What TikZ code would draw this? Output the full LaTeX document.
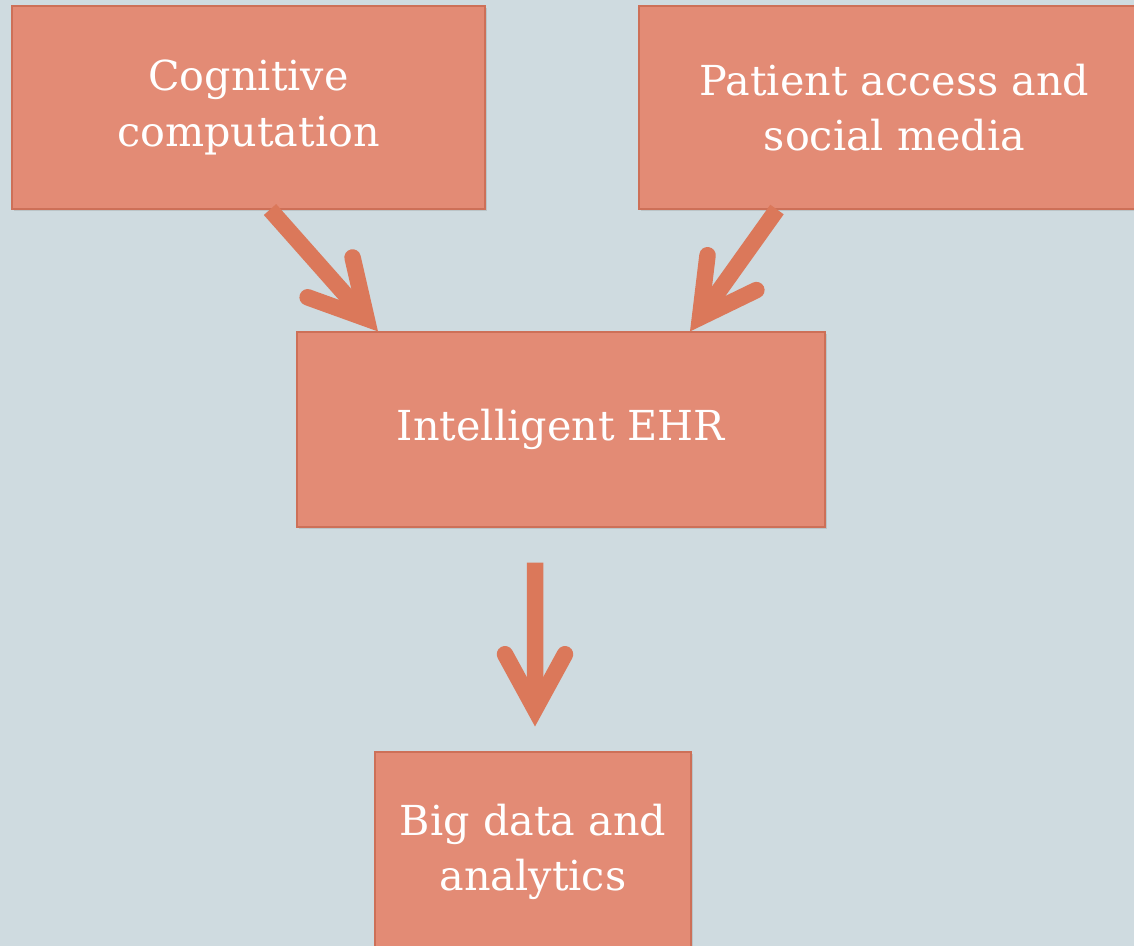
\documentclass[tikz,border=0pt]{standalone}
\usepackage{fontspec}
\setmainfont{DejaVu Serif}
\usetikzlibrary{arrows.meta,shadows}
\definecolor{slate}{RGB}{207,219,224}
\definecolor{salmon}{RGB}{227,139,117}
\definecolor{salmonedge}{RGB}{205,112,88}
\definecolor{rust}{RGB}{219,120,90}
\tikzset{
  box/.style={draw=salmonedge, line width=0.6pt, fill=salmon, text=white,
    align=center, inner sep=0pt, font=\fontsize{23.5}{31.5}\selectfont,
    drop shadow={opacity=0.25, shadow xshift=0.04cm, shadow yshift=-0.05cm}},
  flow/.style={draw=rust, line width=0.33cm,
    -{Straight Barb[length=1.1cm, width=1.2cm, line cap=round, line join=miter]}}
}

\begin{document}
\begin{tikzpicture}
			%%%%% START %%%%%
			
			\fill[slate] (0, 0) rectangle (22.68, -18.92);
			\clip (0, 0) rectangle (22.68, -18.92);
			
			\node[box, minimum width=9.46cm, minimum height=4.06cm] (cog) at (4.97, -2.15) {Cognitive\\computation};
			\node[box, minimum width=10.22cm, minimum height=4.06cm] (pat) at (17.89, -2.15) {Patient access and\\social media};
			
			\node[box, minimum width=10.56cm, minimum height=3.9cm] (ehr) at (11.22, -8.59) {Intelligent EHR};
			
			\node[box, minimum width=6.32cm, minimum height=4.0cm] (big) at (10.66, -17.04) {Big data and\\analytics};
			
			\draw[flow] ([xshift=0.43cm]cog.south) -- ([xshift=-3.66cm]ehr.north);
			\draw[flow] ([xshift=-2.35cm]pat.south) -- ([xshift=2.58cm]ehr.north);
			\draw[flow] ([xshift=-0.52cm, yshift=-0.7cm]ehr.south) -- ([xshift=0.04cm, yshift=0.5cm]big.north);
			
			%%%%% END %%%%%
\end{tikzpicture}
\end{document}
